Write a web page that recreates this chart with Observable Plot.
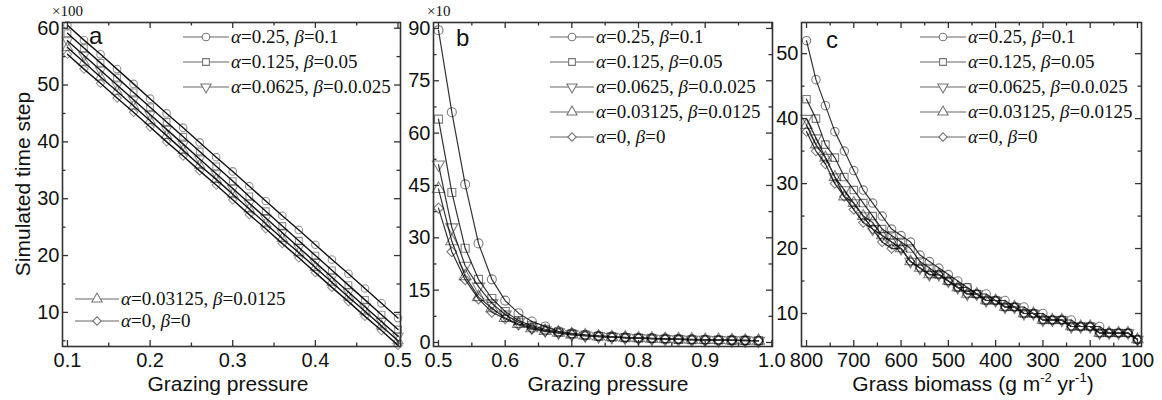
<!DOCTYPE html>
<html><head><meta charset="utf-8">
<script src="https://cdn.jsdelivr.net/npm/d3@7"></script>
<script src="https://cdn.jsdelivr.net/npm/@observablehq/plot@0.6"></script>
<style>
body{margin:0;background:#fff;}
#wrap{position:relative;width:1162px;height:400px;overflow:hidden;background:#fff;color:#111;font-family:"Liberation Sans",Arial,sans-serif;}
.lbl{position:absolute;white-space:nowrap;transform:translate(-50%,-50%);font-size:21px;line-height:1;}
.lbl sup{font-size:13px;vertical-align:9px;line-height:0;}
.ylbl{position:absolute;white-space:nowrap;transform:translate(-50%,-50%) rotate(-90deg);font-size:21px;line-height:1;}
.pl{position:absolute;font-size:24px;line-height:1;}
.mult{position:absolute;font-family:"Liberation Serif","Times New Roman",serif;font-size:15px;line-height:1;}
.leg{position:absolute;white-space:nowrap;display:flex;align-items:center;height:20px;font-family:"Liberation Serif","Times New Roman",serif;font-size:19px;}
.leg svg{display:block;margin-right:2px;}
</style></head><body><div id="wrap"></div>
<script>
// ---------- data ----------
const seriesAlpha = ["0.25", "0.125", "0.0625", "0.03125", "0"];
const seriesBeta = ["0.1", "0.05", "0.0.025", "0.0125", "0"];

// panel a: grazing pressure vs simulated time step (x100)
const pressureA = [0.10,0.12,0.14,0.16,0.18,0.20,0.22,0.24,0.26,0.28,0.30,0.32,0.34,0.36,0.38,0.40,0.42,0.44,0.46,0.48,0.50];
const stepsA1 = [60.5,57.9,55.4,52.8,50.2,47.6,45.0,42.5,39.9,37.3,34.8,32.2,29.6,27.0,24.5,21.9,19.3,16.8,14.2,11.6,9.0];
const stepsA2 = [59.1,56.5,53.9,51.3,48.7,46.1,43.5,40.9,38.3,35.7,33.1,30.4,27.8,25.2,22.6,20.0,17.4,14.8,12.2,9.6,7.0];
const stepsA3 = [57.8,55.2,52.6,50.0,47.4,44.8,42.2,39.6,37.0,34.4,31.8,29.2,26.6,24.0,21.4,18.8,16.2,13.6,11.0,8.4,5.8];
const stepsA4 = [56.6,54.0,51.4,48.9,46.3,43.7,41.1,38.5,35.9,33.4,30.8,28.2,25.6,23.0,20.5,17.9,15.3,12.7,10.2,7.6,5.0];
const stepsA5 = [55.4,52.8,50.3,47.7,45.2,42.6,40.0,37.5,34.9,32.4,29.8,27.2,24.7,22.1,19.6,17.0,14.4,11.9,9.3,6.8,4.2];

// panel b: grazing pressure vs simulated time step (x10)
const pressureB = [0.50,0.52,0.54,0.56,0.58,0.60,0.62,0.64,0.66,0.68,0.70,0.72,0.74,0.76,0.78,0.80,0.82,0.84,0.86,0.88,0.90,0.92,0.94,0.96,0.98];
const stepsB1 = [89.5,66.0,45.3,28.4,18.1,12.0,8.4,6.0,4.6,3.2,2.6,2.2,1.9,1.7,1.5,1.3,1.2,1.1,1.0,0.9,0.8,0.7,0.7,0.6,0.5];
const stepsB2 = [64.0,43.0,27.0,18.1,12.6,8.9,6.3,4.8,3.8,3.0,2.5,2.1,1.8,1.6,1.4,1.3,1.2,1.0,0.9,0.8,0.8,0.7,0.6,0.6,0.5];
const stepsB3 = [51.0,33.0,22.0,16.0,11.2,8.0,5.8,4.4,3.5,2.9,2.4,2.0,1.8,1.6,1.4,1.3,1.1,1.0,0.9,0.8,0.8,0.7,0.6,0.6,0.5];
const stepsB4 = [44.0,29.0,19.0,13.0,9.8,7.0,5.3,4.1,3.3,2.8,2.3,2.0,1.7,1.5,1.4,1.2,1.1,1.0,0.9,0.8,0.7,0.7,0.6,0.5,0.5];
const stepsB5 = [38.5,26.0,18.0,12.5,8.7,6.8,5.0,3.9,3.2,2.7,2.2,1.9,1.7,1.5,1.3,1.2,1.1,1.0,0.9,0.8,0.7,0.6,0.6,0.5,0.5];

// panel c: grass biomass vs simulated time step
const biomassC = [800,780,760,740,720,700,680,660,640,620,600,580,560,540,520,500,480,460,440,420,400,380,360,340,320,300,280,260,240,220,200,180,160,140,120,100];
const stepsC1 = [52,46,42,38,35,32,29,27,25,23,22,21,19,18,17,16,15,14,13,13,12,12,11,11,10,10,9,9,9,8,8,8,7,7,7,6];
const stepsC2 = [43,40,36,34,31,29,27,25,23,22,21,20,18,17,16,15,14,14,13,12,12,11,11,10,10,9,9,9,8,8,8,7,7,7,7,6];
const stepsC3 = [40,37,34,31,29,27,25,23,22,21,20,18,17,16,16,15,14,13,13,12,12,11,11,10,10,9,9,9,8,8,8,7,7,7,7,6];
const stepsC4 = [39,36,34,31,28,27,25,24,22,21,20,18,17,16,16,15,14,13,13,12,12,11,11,10,10,9,9,9,8,8,8,7,7,7,7,6];
const stepsC5 = [38,35,33,30,28,26,24,23,21,20,20,18,17,16,16,15,14,13,13,12,12,11,11,10,10,9,9,9,8,8,8,7,7,7,7,6];

// tick values
const ticksAxMajor = [0.1,0.2,0.3,0.4,0.5];
const ticksAxMinor = [0.15,0.25,0.35,0.45];
const ticksAyMajor = [10,20,30,40,50,60];
const ticksAyMinor = [5,15,25,35,45,55];
const ticksBxMajor = [0.5,0.6,0.7,0.8,0.9,1.0];
const ticksBxMinor = [0.55,0.65,0.75,0.85,0.95];
const ticksByMajor = [0,15,30,45,60,75,90];
const ticksByMinor = [7.5,22.5,37.5,52.5,67.5,82.5];
const ticksCxMajor = [800,700,600,500,400,300,200,100];
const ticksCxMinor = [750,650,550,450,350,250,150];
const ticksCyMajor = [10,20,30,40,50];
const ticksCyMinor = [15,25,35,45];

// ---------- helpers ----------
const S3 = Math.sqrt(3);
const triDown = {draw(ctx, size){ const y = -Math.sqrt(size / (S3 * 3)); ctx.moveTo(0, -2 * y); ctx.lineTo(-S3 * y, y); ctx.lineTo(S3 * y, y); ctx.closePath(); }};
const symbolsList = [d3.symbolCircle, d3.symbolSquare, triDown, d3.symbolTriangle, d3.symbolDiamond2];

function table(xs, ys) { return ys.flatMap((arr, s) => arr.map((v, i) => ({x: xs[i], y: v, s}))); }

const W = 1162, H = 400, MT = 22, MB = 54;
const wrap = document.getElementById("wrap");

function panel(cfg) {
  const {rows, xDomain, yDomain, xMaj, xMin, yMaj, yMin, left, right, xFmt, r, lineStroke, lineWidth, dotOpacity, dotsFirst} = cfg;
  const fw = W - left - right, fh = H - MT - MB;
  const st = {stroke: "#333", strokeWidth: 1.3};
  const ticks = [
    Plot.tickX(xMaj, {x: d => d, insetTop: fh - 6, ...st}),
    Plot.tickX(xMaj, {x: d => d, insetBottom: fh - 6, ...st}),
    Plot.tickX(xMin, {x: d => d, insetTop: fh - 3.5, ...st}),
    Plot.tickX(xMin, {x: d => d, insetBottom: fh - 3.5, ...st}),
    Plot.tickY(yMaj, {y: d => d, insetRight: fw - 6, ...st}),
    Plot.tickY(yMaj, {y: d => d, insetLeft: fw - 6, ...st}),
    Plot.tickY(yMin, {y: d => d, insetRight: fw - 3.5, ...st}),
    Plot.tickY(yMin, {y: d => d, insetLeft: fw - 3.5, ...st})
  ];
  const lines = Plot.line(rows, {x: "x", y: "y", z: "s", stroke: lineStroke, strokeWidth: lineWidth});
  const dots = symbolsList.map((sym, i) => Plot.dot(rows.filter(d => d.s === i), {x: "x", y: "y", r, symbol: sym, fill: "none", stroke: "black", strokeOpacity: dotOpacity, strokeWidth: 1.1}));
  const svg = Plot.plot({
    width: W, height: H, marginLeft: left, marginRight: right, marginTop: MT, marginBottom: MB,
    x: {domain: xDomain}, y: {domain: yDomain},
    marks: [
      ...(dotsFirst ? [...dots, lines] : [lines, ...dots]),
      ...ticks,
      Plot.frame({stroke: "#333", strokeWidth: 1.6}),
      Plot.axisX(xMaj, {tickSize: 0, tickPadding: 6, fontSize: 20, label: null, tickFormat: xFmt}),
      Plot.axisY(yMaj, {tickSize: 0, tickPadding: 3, fontSize: 20, label: null, tickFormat: d => String(d)})
    ]
  });
  svg.style.position = "absolute"; svg.style.left = "0px"; svg.style.top = "0px";
  svg.style.background = "transparent"; svg.style.overflow = "visible"; svg.style.maxWidth = "none";
  svg.setAttribute("font-family", "'Liberation Sans', Arial, sans-serif");
  svg.setAttribute("font-size", "20");
  svg.style.color = "#111";
  wrap.appendChild(svg);
}

function addDiv(cls, html, x, y) {
  const d = document.createElement("div");
  d.className = cls; d.innerHTML = html; d.style.left = x + "px"; d.style.top = y + "px";
  wrap.appendChild(d); return d;
}

function legendRow(i, x, y, len, r) {
  const d = document.createElement("div");
  d.className = "leg"; d.style.left = x + "px"; d.style.top = (y - 10) + "px";
  const svg = d3.create("svg").attr("width", len).attr("height", 20);
  svg.append("line").attr("x1", 0).attr("x2", len).attr("y1", 10).attr("y2", 10).attr("stroke", "#666").attr("stroke-width", 1.1);
  svg.append("path").attr("transform", `translate(${len / 2},10)`).attr("d", d3.symbol(symbolsList[i], Math.PI * r * r)()).attr("fill", "white").attr("stroke", "#777").attr("stroke-width", 1.1);
  d.appendChild(svg.node());
  const span = document.createElement("span");
  span.innerHTML = `<i>α</i>=${seriesAlpha[i]}, <i>β</i>=${seriesBeta[i]}`;
  d.appendChild(span);
  wrap.appendChild(d);
}

// ---------- panels ----------
const f1 = d3.format(".1f");
panel({rows: table(pressureA, [stepsA1, stepsA2, stepsA3, stepsA4, stepsA5]), xDomain: [0.094, 0.503], yDomain: [4.0, 61.0],
  xMaj: ticksAxMajor, xMin: ticksAxMinor, yMaj: ticksAyMajor, yMin: ticksAyMinor, left: 62, right: W - 400, xFmt: f1,
  r: 3.8, lineStroke: "#111", lineWidth: 1.4, dotOpacity: 0.42, dotsFirst: true});
panel({rows: table(pressureB, [stepsB1, stepsB2, stepsB3, stepsB4, stepsB5]), xDomain: [0.4925, 1.001], yDomain: [-1.15, 91.7],
  xMaj: ticksBxMajor, xMin: ticksBxMinor, yMaj: ticksByMajor, yMin: ticksByMinor, left: 433, right: W - 772, xFmt: f1,
  r: 4.5, lineStroke: "#333", lineWidth: 1.2, dotOpacity: 0.5, dotsFirst: false});
panel({rows: table(biomassC, [stepsC1, stepsC2, stepsC3, stepsC4, stepsC5]), xDomain: [810.6, 91.5], yDomain: [4.92, 54.8],
  xMaj: ticksCxMajor, xMin: ticksCxMinor, yMaj: ticksCyMajor, yMin: ticksCyMinor, left: 801, right: W - 1141, xFmt: d => String(d),
  r: 4.2, lineStroke: "#333", lineWidth: 1.2, dotOpacity: 0.5, dotsFirst: false});

// ---------- texts ----------
addDiv("ylbl", "Simulated time step", 22, 184);
addDiv("lbl", "Grazing pressure", 228, 383);
addDiv("lbl", "Grazing pressure", 608, 383);
addDiv("lbl", "Grass biomass (g m<sup>-2</sup> yr<sup>-1</sup>)", 973, 383);
addDiv("pl", "a", 89, 24);
addDiv("pl", "b", 456, 26);
addDiv("pl", "c", 826, 28);
addDiv("mult", "×100", 52, 4);
addDiv("mult", "×10", 427, 4);

// ---------- legends ----------
[0, 1, 2].forEach((i, k) => legendRow(i, 183, 37 + k * 25, 46, 3.8));
[3, 4].forEach((i, k) => legendRow(i, 75, 299 + k * 22, 44, 3.8));
[0, 1, 2, 3, 4].forEach((i, k) => legendRow(i, 550, 37 + k * 25, 44, 3.8));
[0, 1, 2, 3, 4].forEach((i, k) => legendRow(i, 920, 37 + k * 25, 46, 3.8));
</script></body></html>
